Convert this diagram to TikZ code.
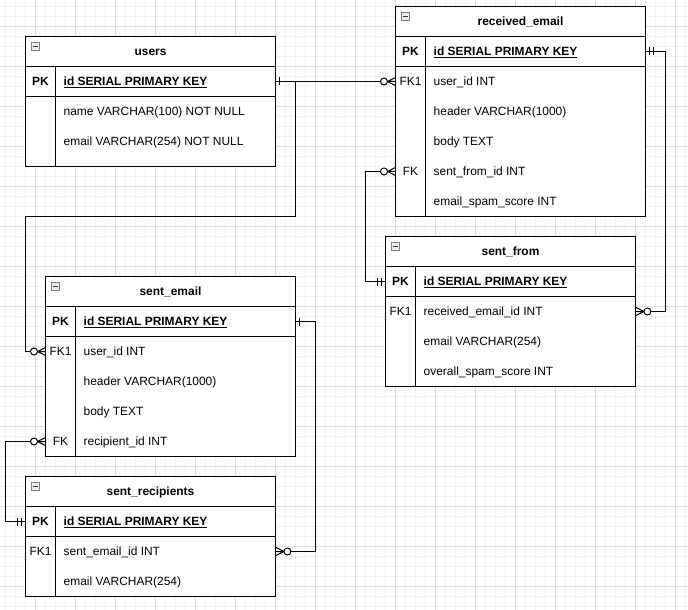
\documentclass[tikz,border=0pt]{standalone}
\usepackage{fontspec}
\setmainfont{Liberation Sans}
\tikzset{
  minorgrid/.style={draw=black!5, line width=1bp},
  majorgrid/.style={draw=black!13, line width=1bp},
  tbl/.style={draw=black, line width=1bp},
  titletxt/.style={font=\fontsize{12}{14}\selectfont\bfseries, inner sep=0pt, text height=8.6pt, text depth=0pt},
  rowbox/.style={minimum width=250bp, minimum height=30bp, inner sep=0pt, anchor=west},
  keytxt/.style={font=\fontsize{12}{14}\selectfont, inner sep=0pt, text height=8.6pt, text depth=0pt},
  fldtxt/.style={font=\fontsize{12}{14}\selectfont, inner sep=0pt, anchor=west, text height=8.6pt, text depth=0pt},
  conn/.style={draw=black, line width=1bp},
  pics/erone/.style={code={\draw[line width=1bp] (4,-4) -- (4,4);}},
  pics/ermandone/.style={code={\draw[line width=1bp] (4,-4) -- (4,4) (8,-4) -- (8,4);}},
  pics/erzmany/.style={code={\draw[line width=1bp] (0,-4) -- (8,0) -- (0,4) (0,0) -- (8,0);
      \draw[line width=1bp, fill=white] (11.5,0) circle (3.5);}},
}
\newcommand{\ertbl}[3]{%
  \fill[white] (#1,#2) rectangle (#1+250,#3);
  \draw[tbl] (#1,#2) rectangle (#1+250,#3);
  \draw[tbl] (#1,#2+30) -- (#1+250,#2+30) (#1,#2+60) -- (#1+250,#2+60) (#1+30,#2+30) -- (#1+30,#3);
  \draw[line width=0.8bp, draw=black!50, fill=black!8] (#1+6,#2+6) rectangle (#1+14,#2+14);
  \draw[line width=1.2bp, draw=black!80] (#1+7.5,#2+10) -- (#1+12.5,#2+10);
}
\newcommand{\errow}[5]{%
  \node[rowbox] (#1) at (#2,#3) {};
  \node[keytxt] at (#2+15,#3) {#4};
  \node[fldtxt] at (#2+38,#3) {#5};
}
\begin{document}
\begin{tikzpicture}[x=1bp,y=-1bp]
\useasboundingbox (0,0) rectangle (688,610);
\fill[white] (0,0) rectangle (688,610);
\begin{scope}[shift={(0.5,0.5)}]
% grid
\foreach \x in {5,15,...,685} \draw[minorgrid] (\x,-1) -- (\x,610);
\foreach \y in {6,16,...,606} \draw[minorgrid] (-1,\y) -- (688,\y);
\foreach \x in {35,75,...,675} \draw[majorgrid] (\x,-1) -- (\x,610);
\foreach \y in {26,66,...,586} \draw[majorgrid] (-1,\y) -- (688,\y);

% users
\ertbl{25}{36}{166}
\node[titletxt] (users) at (150,51) {users};
\errow{users-pk}{25}{81}{\bfseries PK}{\bfseries\underline{id SERIAL PRIMARY KEY}}
\errow{users-name}{25}{111}{}{name VARCHAR(100) NOT NULL}
\errow{users-email}{25}{141}{}{email VARCHAR(254) NOT NULL}

% received_email
\ertbl{395}{6}{216}
\node[titletxt] (recv) at (520,21) {received\_email};
\errow{recv-pk}{395}{51}{\bfseries PK}{\bfseries\underline{id SERIAL PRIMARY KEY}}
\errow{recv-uid}{395}{81}{FK1}{user\_id INT}
\errow{recv-hdr}{395}{111}{}{header VARCHAR(1000)}
\errow{recv-body}{395}{141}{}{body TEXT}
\errow{recv-sfid}{395}{171}{FK}{sent\_from\_id INT}
\errow{recv-spam}{395}{201}{}{email\_spam\_score INT}

% sent_from
\ertbl{385}{236}{386}
\node[titletxt] (sf) at (510,251) {sent\_from};
\errow{sf-pk}{385}{281}{\bfseries PK}{\bfseries\underline{id SERIAL PRIMARY KEY}}
\errow{sf-reid}{385}{311}{FK1}{received\_email\_id INT}
\errow{sf-email}{385}{341}{}{email VARCHAR(254)}
\errow{sf-spam}{385}{371}{}{overall\_spam\_score INT}

% sent_email
\ertbl{45}{276}{456}
\node[titletxt] (sent) at (170,291) {sent\_email};
\errow{sent-pk}{45}{321}{\bfseries PK}{\bfseries\underline{id SERIAL PRIMARY KEY}}
\errow{sent-uid}{45}{351}{FK1}{user\_id INT}
\errow{sent-hdr}{45}{381}{}{header VARCHAR(1000)}
\errow{sent-body}{45}{411}{}{body TEXT}
\errow{sent-rid}{45}{441}{FK}{recipient\_id INT}

% sent_recipients
\ertbl{25}{476}{596}
\node[titletxt] (sr) at (150,491) {sent\_recipients};
\errow{sr-pk}{25}{521}{\bfseries PK}{\bfseries\underline{id SERIAL PRIMARY KEY}}
\errow{sr-seid}{25}{551}{FK1}{sent\_email\_id INT}
\errow{sr-email}{25}{581}{}{email VARCHAR(254)}

% connectors
\draw[conn] (users-pk.east) -- (recv-uid.west);
\draw[conn] (users-pk.east) -- ++(20,0) -- ++(0,135) -| ([xshift=-20bp]sent-uid.west) -- (sent-uid.west);
\draw[conn] (sf-pk.west) -- ++(-20,0) |- (recv-sfid.west);
\draw[conn] (recv-pk.east) -- ++(20,0) |- (sf-reid.east);
\draw[conn] (sent-pk.east) -- ++(20,0) |- (sr-seid.east);
\draw[conn] (sent-rid.west) -- ++(-40,0) |- (sr-pk.west);

% end marks
\pic at (users-pk.east) {erone};
\pic[rotate=180] at (recv-uid.west) {erzmany};
\pic[rotate=180] at (sent-uid.west) {erzmany};
\pic[rotate=180] at (sf-pk.west) {ermandone};
\pic[rotate=180] at (recv-sfid.west) {erzmany};
\pic at (recv-pk.east) {ermandone};
\pic at (sf-reid.east) {erzmany};
\pic at (sent-pk.east) {erone};
\pic at (sr-seid.east) {erzmany};
\pic[rotate=180] at (sent-rid.west) {erzmany};
\pic[rotate=180] at (sr-pk.west) {ermandone};
\end{scope}
\end{tikzpicture}
\end{document}
